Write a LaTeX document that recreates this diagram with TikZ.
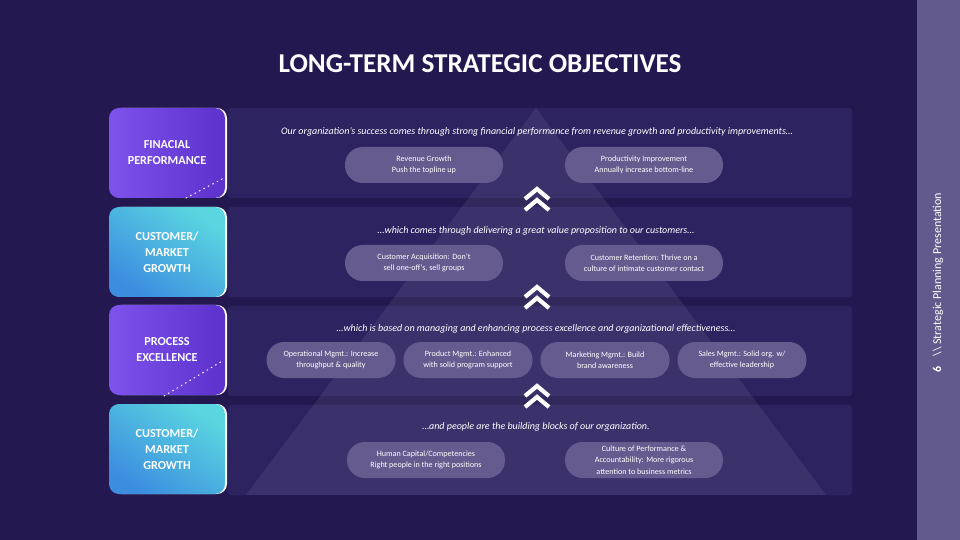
\documentclass[tikz,border=0pt]{standalone}
\usepackage{fontspec}
\setmainfont{Carlito}
\usetikzlibrary{positioning}

\definecolor{sfondo}{HTML}{231850}
\definecolor{striscia}{HTML}{625A8C}
\definecolor{fascia}{HTML}{2D2361}
\definecolor{pill}{HTML}{655B8E}
\definecolor{violaA}{HTML}{7E53EC}
\definecolor{violaB}{HTML}{5C31CC}
\definecolor{cianoA}{HTML}{3C8DE0}
\definecolor{cianoB}{HTML}{5AD6E0}

\begin{document}
\begin{tikzpicture}[x=0.5pt,y=-0.5pt,line join=round,line cap=round,
  pillola/.style={fill=pill,rounded corners=8.8pt,minimum width=79pt,minimum height=18pt,
    inner sep=1pt,align=center,text=white,font=\fontsize{4.05}{5.7}\selectfont},
  motto/.style={text=white,inner sep=0pt,font=\itshape\fontsize{5}{6}\selectfont},
  pilastro/.style={rounded corners=5pt,minimum width=58pt,minimum height=45pt,inner sep=0pt,
    align=center,text=white,font=\bfseries\fontsize{6.1}{8}\selectfont},
  viola/.style={left color=violaA,right color=violaB},
  ciano/.style={bottom color=cianoA,top color=cianoB,shading angle=-35},
  freccia/.style={white,line width=2.1pt,line cap=butt,line join=miter}]

  % fondo e bordo della pagina
  \useasboundingbox (0,0) rectangle (960,540);
  \fill[sfondo] (0,0) rectangle (960,540);
  \fill[striscia] (917,0) rectangle (960,540);

  \node[text=white,font=\bfseries\fontsize{13.6}{15}\selectfont] (titolo) at (480,64)
       {LONG-TERM STRATEGIC OBJECTIVES};

  % ---- le quattro fasce e la piramide in trasparenza -----------------------
  \foreach \t in {108,207,306,405}
    \fill[fascia,rounded corners=1.5pt] (228,\t) rectangle (852,\t+90);
  \fill[white,opacity=0.07] (536,108) -- (826,495) -- (246,495) -- cycle;

  % ---- i pilastri a sinistra ------------------------------------------------
  \fill[white,rounded corners=5pt] (111,108) rectangle (227,198);
  \node[pilastro,viola] (fin) at (167,153) {FINACIAL\\PERFORMANCE};
  \draw[white,dotted,line width=0.5pt] (186,198) -- (224,178);

  \fill[white,rounded corners=5pt] (111,207) rectangle (227,297);
  \node[pilastro,ciano] (cli) at (167,252) {CUSTOMER/\\MARKET\\GROWTH};

  \fill[white,rounded corners=5pt] (111,305) rectangle (227,395);
  \node[pilastro,viola] (pro) at (167,350) {PROCESS\\EXCELLENCE};
  \draw[white,dotted,line width=0.5pt] (164,396) -- (224,360);

  \fill[white,rounded corners=5pt] (111,404) rectangle (227,494);
  \node[pilastro,ciano] (cre) at (167,449) {CUSTOMER/\\MARKET\\GROWTH};

  % ---- fascia 1: risultati finanziari ----------------------------------------
  \node[motto] (motto1) at (537,132)
       {Our organization’s success comes through strong financial performance from revenue growth and productivity improvements…};
  \node[pillola] (ricavi) at (424,165) {Revenue Growth\\Push the topline up};
  \node[pillola] (produtt) at (644,165) {Productivity Improvement\\Annually increase bottom-line};

  % ---- fascia 2: clienti -------------------------------------------------------
  \node[motto] (motto2) at (536,231)
       {…which comes through delivering a great value proposition to our customers…};
  \node[pillola] (acquis) at (424,263) {Customer Acquisition: Don’t\\sell one-off’s, sell groups};
  \node[pillola] (fideli) at (644,263) {Customer Retention: Thrive on a\\culture of intimate customer contact};

  % ---- fascia 3: processi ------------------------------------------------------
  \node[motto] (motto3) at (536,329)
       {…which is based on managing and enhancing process excellence and organizational effectiveness…};
  \node[pillola,minimum width=64.5pt] (operat) at (331,360) {Operational Mgmt.: Increase\\throughput \& quality};
  \node[pillola,minimum width=64.5pt] (prodotto) at (468,360) {Product Mgmt.: Enhanced\\with solid program support};
  \node[pillola,minimum width=64.5pt] (market) at (605,360) {Marketing Mgmt.: Build\\brand awareness};
  \node[pillola,minimum width=64.5pt] (vendite) at (742,360) {Sales Mgmt.: Solid org. w/\\effective leadership};

  % ---- fascia 4: persone -------------------------------------------------------
  \node[motto] (motto4) at (536,427)
       {…and people are the building blocks of our organization.};
  \node[pillola] (capitale) at (426,460) {Human Capital/Competencies\\Right people in the right positions};
  \node[pillola] (cultura) at (644,460) {Culture of Performance \&\\Accountability: More rigorous\\attention to business metrics};

  % ---- doppie frecce fra le fasce ------------------------------------------------
  \foreach \c in {200,298,397} {
    \draw[freccia] (525,\c-1) -- (537,\c-11) -- (549,\c-1);
    \draw[freccia] (525,\c+10) -- (537,\c) -- (549,\c+10);
  }

  % ---- piede verticale ---------------------------------------------------------
  \node[rotate=90,anchor=west,text=white,inner sep=0pt,font=\fontsize{6}{6}\selectfont] (piede) at (938,373)
       {\textbf{6}\hspace{5pt}\textbackslash\textbackslash\ Strategic Planning Presentation};

\end{tikzpicture}
\end{document}
